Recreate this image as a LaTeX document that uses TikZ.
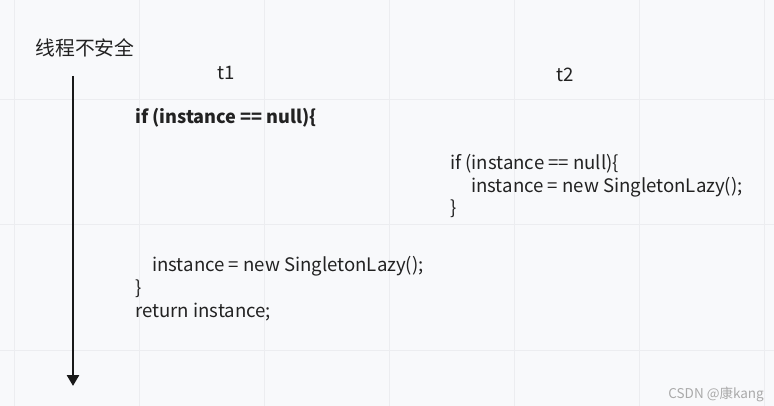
\documentclass[tikz,border=0pt]{standalone}
\usepackage{fontspec}
\setmainfont{Noto Sans CJK SC}
\usetikzlibrary{arrows.meta}
\definecolor{bgcol}{HTML}{F8F9FB}
\definecolor{gridcol}{HTML}{ECEDF0}
\definecolor{textcol}{HTML}{222222}
\definecolor{markcol}{HTML}{AAAAAA}

\begin{document}
\begin{tikzpicture}[x=1pt, y=-1pt,
    code/.style={anchor=base west, inner sep=0pt, text=textcol,
      font=\fontsize{18.6}{20}\selectfont},
    label/.style={anchor=base, inner sep=0pt, text=textcol,
      font=\fontsize{18.6}{20}\selectfont},
    gridline/.style={draw=gridcol, line width=1pt},
    timearrow/.style={draw=black!90, line width=2.6pt,
      -{Stealth[length=11pt, width=12pt, inset=0pt]}}]
    % background and faint grid
    \useasboundingbox (0,0) rectangle (774,406);
    \fill[bgcol] (0,0) rectangle (774,406);
    \draw[gridline] (14,0) -- (14,406);
    \draw[gridline] (139,0) -- (139,406);
    \draw[gridline] (264,0) -- (264,406);
    \draw[gridline] (389,0) -- (389,406);
    \draw[gridline] (514,0) -- (514,406);
    \draw[gridline] (639,0) -- (639,406);
    \draw[gridline] (764,0) -- (764,406);
    \draw[gridline] (0,100) -- (774,100);
    \draw[gridline] (0,225) -- (774,225);
    \draw[gridline] (0,350) -- (774,350);

    % time axis
    \node[label, font=\fontsize{19.8}{22}\selectfont] (title) at (85,56) {线程不安全};
    \coordinate (timetop) at (73,76);
    \coordinate (timeend) at (73,386);
    \draw[timearrow] (timetop) -- (timeend);

    % thread t1
    \node[label] (t1) at (226,80) {t1};
    \node[code, font=\fontsize{18.1}{20}\selectfont\bfseries] (t1if) at (135,124) {if (instance == null)\{};
    \node[code] (t1new) at (152,272) {instance = new SingletonLazy();};
    \node[code] (t1brace) at (135,294.5) {\}};
    \node[code] (t1ret) at (135,317) {return instance;};

    % thread t2
    \node[label] (t2) at (565,82) {t2};
    \node[code] (t2if) at (450,170) {if (instance == null)\{};
    \node[code] (t2new) at (471,192.5) {instance = new SingletonLazy();};
    \node[code] (t2brace) at (450,215) {\}};

    % watermark
    \node[anchor=base east, inner sep=0pt, text=markcol,
      font=\fontsize{13.5}{15}\selectfont] (mark) at (764,398) {CSDN @康kang};
\end{tikzpicture}
\end{document}
